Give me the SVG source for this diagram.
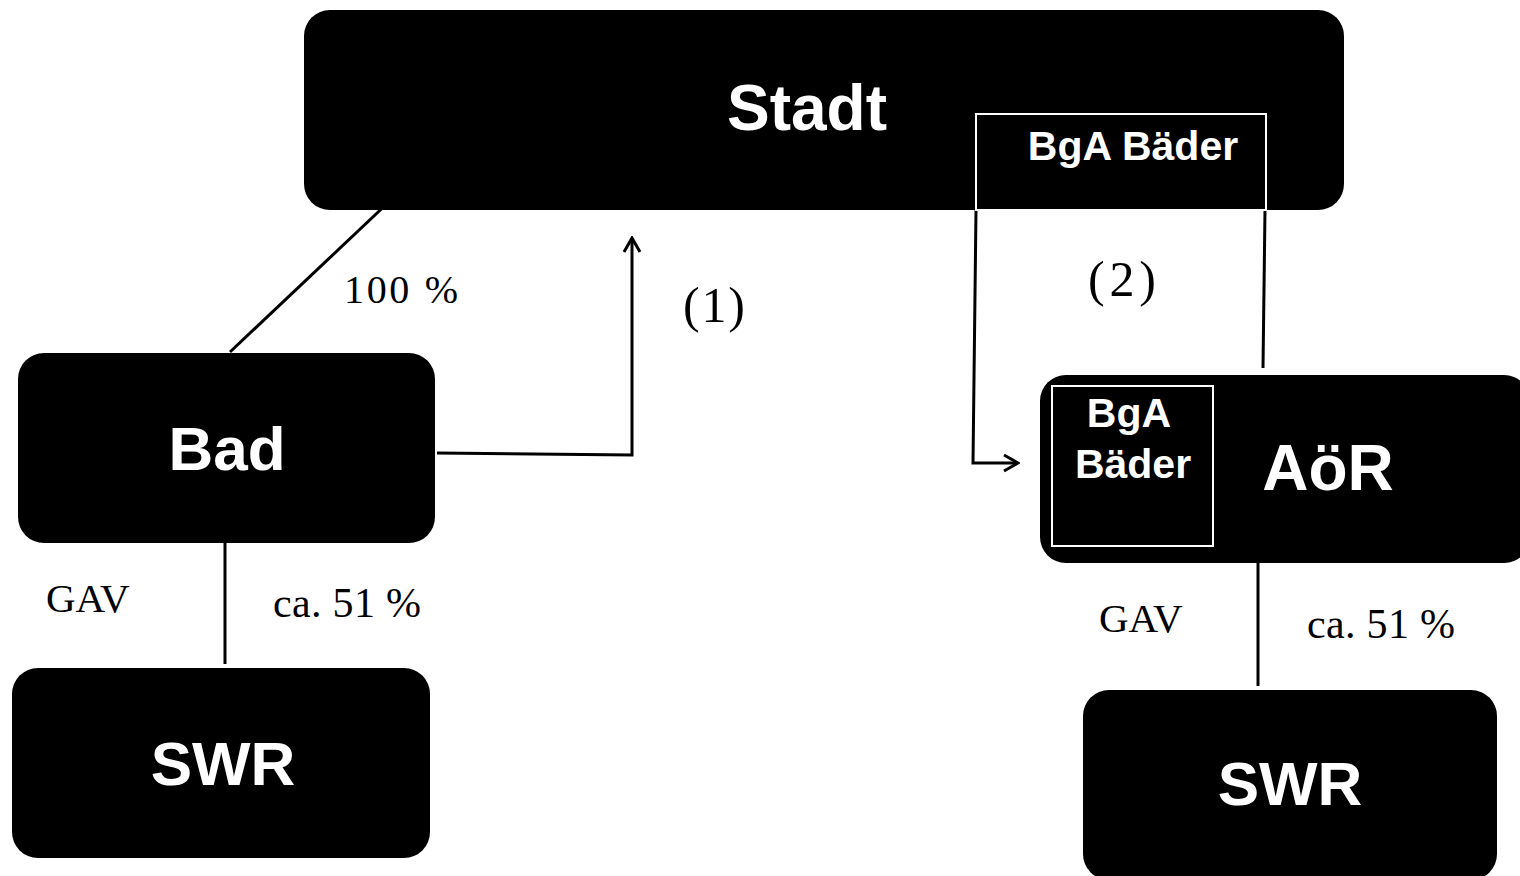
<svg xmlns="http://www.w3.org/2000/svg" width="1520" height="876" viewBox="0 0 1520 876">
<style>
.box{fill:#000}
.inner{fill:none;stroke:#fff;stroke-width:2}
.t{font-family:"Liberation Sans",Arial,sans-serif;font-weight:bold;fill:#fff;text-anchor:middle}
.s{font-family:"Liberation Serif","Times New Roman",serif;fill:#000}
.c{fill:none;stroke:#000;stroke-width:3}
</style>
<defs>
<marker id="ah" viewBox="0 0 20 20" refX="18" refY="10" markerWidth="20" markerHeight="20" markerUnits="userSpaceOnUse" orient="auto">
<path d="M4,2 L18,10 L4,18" fill="none" stroke="#000" stroke-width="3"/>
</marker>
</defs>
<g id="connectors">
<line class="c" x1="393" y1="198" x2="230" y2="352"/>
<path class="c" d="M437,453 L632,455 L632,238" marker-end="url(#ah)"/>
<path class="c" d="M976,210 L973,463 L1018,463" marker-end="url(#ah)"/>
<line class="c" x1="1265" y1="210" x2="1263" y2="368"/>
<line class="c" x1="225" y1="543" x2="225" y2="664"/>
<line class="c" x1="1258" y1="563" x2="1258" y2="686"/>
</g>
<g id="labels">
<text class="s" x="344" y="303" font-size="40" textLength="114">100 %</text>
<text class="s" x="683" y="322" font-size="50" textLength="62">(1)</text>
<text class="s" x="1088" y="296" font-size="50" textLength="68">(2)</text>
<text class="s" x="46" y="612" font-size="41">GAV</text>
<text class="s" x="273" y="617" font-size="42" textLength="148">ca. 51 %</text>
<text class="s" x="1099" y="632" font-size="41">GAV</text>
<text class="s" x="1307" y="638" font-size="42" textLength="148">ca. 51 %</text>
</g>
<g id="stadt">
<rect class="box" x="304" y="10" width="1040" height="200" rx="26"/>
<text class="t" x="807" y="130" font-size="64">Stadt</text>
<rect class="inner" x="976" y="114" width="290" height="96"/>
<text class="t" x="1133" y="160" font-size="41">BgA Bäder</text>
</g>
<g id="bad">
<rect class="box" x="18" y="353" width="417" height="190" rx="26"/>
<text class="t" x="227" y="470" font-size="62">Bad</text>
</g>
<g id="swr-left">
<rect class="box" x="12" y="668" width="418" height="190" rx="26"/>
<text class="t" x="223" y="785" font-size="62">SWR</text>
</g>
<g id="aor">
<rect class="box" x="1040" y="375" width="490" height="188" rx="26"/>
<rect class="inner" x="1052" y="386" width="161" height="160"/>
<text class="t" x="1129" y="427" font-size="41">BgA</text>
<text class="t" x="1133" y="478" font-size="41">Bäder</text>
<text class="t" x="1328" y="490" font-size="64">AöR</text>
</g>
<g id="swr-right">
<rect class="box" x="1083" y="690" width="414" height="190" rx="26"/>
<text class="t" x="1290" y="805" font-size="62">SWR</text>
</g>
</svg>
